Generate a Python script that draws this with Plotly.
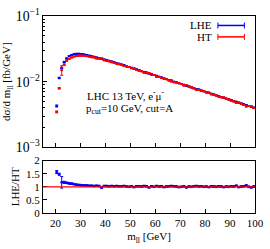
import plotly.graph_objects as go
from plotly.subplots import make_subplots

mll = [20.5 + i for i in range(80)]
bin_half = [0.5] * 80

lhe = [4.27e-3, 1.14e-2, 1.62e-2, 2.00e-2, 2.26e-2, 2.46e-2, 2.56e-2, 2.63e-2, 2.66e-2, 2.66e-2,
       2.63e-2, 2.59e-2, 2.55e-2, 2.49e-2, 2.44e-2, 2.39e-2, 2.33e-2, 2.28e-2, 2.23e-2, 2.18e-2,
       2.13e-2, 2.08e-2, 2.03e-2, 1.98e-2, 1.93e-2, 1.88e-2, 1.82e-2, 1.78e-2, 1.72e-2, 1.68e-2,
       1.63e-2, 1.58e-2, 1.54e-2, 1.50e-2, 1.45e-2, 1.41e-2, 1.38e-2, 1.33e-2, 1.30e-2, 1.26e-2,
       1.23e-2, 1.19e-2, 1.16e-2, 1.12e-2, 1.10e-2, 1.06e-2, 1.04e-2, 1.00e-2, 9.80e-3, 9.45e-3,
       9.25e-3, 8.95e-3, 8.70e-3, 8.50e-3, 8.20e-3, 8.02e-3, 7.75e-3, 7.58e-3, 7.33e-3, 7.16e-3,
       6.93e-3, 6.76e-3, 6.55e-3, 6.38e-3, 6.18e-3, 6.03e-3, 5.84e-3, 5.70e-3, 5.52e-3, 5.38e-3,
       5.24e-3, 5.06e-3, 4.95e-3, 4.78e-3, 4.67e-3, 4.52e-3, 4.42e-3, 4.27e-3, 4.16e-3, 4.03e-3]

ht = [3.47e-3, 7.93e-3, 1.50e-2, 1.82e-2, 2.09e-2, 2.23e-2, 2.34e-2, 2.42e-2, 2.46e-2, 2.49e-2,
      2.49e-2, 2.48e-2, 2.45e-2, 2.41e-2, 2.36e-2, 2.33e-2, 2.26e-2, 2.23e-2, 2.28e-2, 2.12e-2,
      2.07e-2, 2.04e-2, 1.98e-2, 1.94e-2, 1.88e-2, 1.84e-2, 1.79e-2, 1.73e-2, 1.70e-2, 1.68e-2,
      1.60e-2, 1.59e-2, 1.51e-2, 1.47e-2, 1.44e-2, 1.37e-2, 1.35e-2, 1.36e-2, 1.27e-2, 1.26e-2,
      1.19e-2, 1.18e-2, 1.14e-2, 1.13e-2, 1.09e-2, 1.04e-2, 1.01e-2, 9.80e-3, 9.70e-3, 9.55e-3,
      9.25e-3, 8.78e-3, 8.88e-3, 8.42e-3, 8.20e-3, 7.86e-3, 7.52e-3, 7.50e-3, 7.19e-3, 7.16e-3,
      6.86e-3, 6.83e-3, 6.42e-3, 6.32e-3, 6.18e-3, 5.91e-3, 5.78e-3, 5.76e-3, 5.47e-3, 5.38e-3,
      5.14e-3, 5.01e-3, 4.76e-3, 4.83e-3, 4.62e-3, 4.43e-3, 4.21e-3, 4.27e-3, 4.24e-3, 3.99e-3]

lhe_err = [1.5e-4, 3.0e-4, 4.0e-4, 4.0e-4, 4.0e-4, 4.0e-4, 4.0e-4, 4.0e-4, 4.0e-4, 4.0e-4,
           3.5e-4, 3.5e-4, 3.5e-4, 3.5e-4, 3.5e-4, 3.5e-4, 3.5e-4, 3.0e-4, 3.0e-4, 3.0e-4,
           3.0e-4, 3.0e-4, 3.0e-4, 3.0e-4, 2.8e-4, 2.8e-4, 2.8e-4, 2.6e-4, 2.6e-4, 2.6e-4,
           2.4e-4, 2.4e-4, 2.3e-4, 2.3e-4, 2.2e-4, 2.2e-4, 2.1e-4, 2.0e-4, 2.0e-4, 1.9e-4,
           1.9e-4, 1.8e-4, 1.8e-4, 1.7e-4, 1.7e-4, 1.6e-4, 1.6e-4, 1.5e-4, 1.5e-4, 1.5e-4,
           1.4e-4, 1.4e-4, 1.3e-4, 1.3e-4, 1.3e-4, 1.2e-4, 1.2e-4, 1.2e-4, 1.1e-4, 1.1e-4,
           1.1e-4, 1.0e-4, 1.0e-4, 1.0e-4, 1.0e-4, 9.0e-5, 9.0e-5, 9.0e-5, 8.5e-5, 8.5e-5,
           8.0e-5, 8.0e-5, 8.0e-5, 7.5e-5, 7.5e-5, 7.0e-5, 7.0e-5, 7.0e-5, 6.5e-5, 6.5e-5]

ht_err = [1.2e-4, 2.0e-4, 2.5e-3, 4.0e-4, 4.0e-4, 4.0e-4, 4.0e-4, 4.0e-4, 4.0e-4, 4.0e-4,
          3.5e-4, 3.5e-4, 3.5e-4, 3.5e-4, 3.5e-4, 3.5e-4, 3.5e-4, 3.0e-4, 3.0e-4, 3.0e-4,
          3.0e-4, 3.0e-4, 3.0e-4, 3.0e-4, 2.8e-4, 2.8e-4, 2.8e-4, 2.6e-4, 2.6e-4, 2.6e-4,
          2.4e-4, 2.4e-4, 2.3e-4, 2.3e-4, 2.2e-4, 2.2e-4, 2.1e-4, 2.0e-4, 2.0e-4, 1.9e-4,
          1.9e-4, 1.8e-4, 1.8e-4, 1.7e-4, 1.7e-4, 1.6e-4, 1.6e-4, 1.5e-4, 1.5e-4, 1.5e-4,
          1.4e-4, 1.4e-4, 1.3e-4, 1.3e-4, 1.3e-4, 1.2e-4, 1.2e-4, 1.2e-4, 1.1e-4, 1.1e-4,
          1.1e-4, 1.0e-4, 1.0e-4, 1.0e-4, 1.0e-4, 9.0e-5, 9.0e-5, 9.0e-5, 8.5e-5, 8.5e-5,
          8.0e-5, 8.0e-5, 8.0e-5, 7.5e-5, 7.5e-5, 7.0e-5, 7.0e-5, 7.0e-5, 6.5e-5, 6.5e-5]

ratio = [1.56, 1.48, 1.17, 1.17, 1.15, 1.13, 1.12, 1.10, 1.08, 1.07,
         1.06, 1.05, 1.05, 1.04, 1.04, 1.03, 1.04, 1.03, 0.97, 1.03,
         1.03, 1.02, 1.03, 1.02, 1.03, 1.02, 1.02, 1.03, 1.01, 1.00,
         1.02, 0.99, 1.02, 1.02, 1.01, 1.03, 1.02, 0.98, 1.02, 1.00,
         1.03, 1.01, 1.02, 0.99, 1.01, 1.02, 1.03, 1.02, 1.01, 0.99,
         1.00, 1.02, 0.98, 1.01, 1.00, 1.02, 1.03, 1.01, 1.02, 1.00,
         1.01, 0.99, 1.02, 1.01, 1.00, 1.02, 1.01, 0.99, 1.01, 1.00,
         1.02, 1.01, 1.04, 0.99, 1.01, 1.02, 1.05, 1.00, 0.98, 1.01]

ratio_err = [0.06, 0.04, 0.22, 0.04, 0.03, 0.03, 0.03, 0.03, 0.03, 0.03,
             0.03, 0.03, 0.03, 0.03, 0.03, 0.03, 0.03, 0.03, 0.03, 0.03,
             0.03, 0.03, 0.03, 0.03, 0.03, 0.03, 0.03, 0.03, 0.03, 0.03,
             0.03, 0.03, 0.03, 0.03, 0.03, 0.03, 0.03, 0.03, 0.03, 0.03,
             0.03, 0.03, 0.03, 0.03, 0.03, 0.03, 0.03, 0.03, 0.03, 0.03,
             0.03, 0.03, 0.03, 0.03, 0.03, 0.03, 0.03, 0.03, 0.03, 0.03,
             0.03, 0.03, 0.03, 0.03, 0.03, 0.03, 0.03, 0.03, 0.03, 0.03,
             0.03, 0.03, 0.03, 0.03, 0.03, 0.03, 0.03, 0.03, 0.03, 0.03]

x_ticks = [20, 30, 40, 50, 60, 70, 80, 90, 100]
ratio_ticks = [0, 0.5, 1, 1.5, 2]
ratio_ticktext = ["0", "0.5", "1", "1.5", "2"]

BLUE = "#0000ff"
RED = "#ff0000"
FONT = "Liberation Serif"

fig = make_subplots(rows=2, cols=1, shared_xaxes=False, vertical_spacing=0.0)

fig.add_trace(go.Scatter(
    x=mll, y=lhe, mode="markers", name="LHE",
    marker=dict(color=BLUE, size=2, symbol="square"),
    error_x=dict(type="data", array=bin_half, color=BLUE, thickness=1.6, width=0),
    error_y=dict(type="data", array=lhe_err, color=BLUE, thickness=1, width=1.5),
    showlegend=False), row=1, col=1)
fig.add_trace(go.Scatter(
    x=mll, y=ht, mode="markers", name="HT",
    marker=dict(color=RED, size=2, symbol="square"),
    error_x=dict(type="data", array=bin_half, color=RED, thickness=1.6, width=0),
    error_y=dict(type="data", array=ht_err, color=RED, thickness=1, width=1.5),
    showlegend=False), row=1, col=1)

fig.add_trace(go.Scatter(
    x=mll, y=ratio, mode="markers", name="LHE/HT",
    marker=dict(color=BLUE, size=2, symbol="square"),
    error_x=dict(type="data", array=bin_half, color=BLUE, thickness=1.6, width=0),
    error_y=dict(type="data", array=ratio_err, color=BLUE, thickness=1, width=1.5),
    showlegend=False), row=2, col=1)

fig.add_hline(y=1, line=dict(color=RED, width=1.2), row=2, col=1)

axis_common = dict(showline=True, linecolor="black", linewidth=1, mirror=True,
                   ticks="inside", tickcolor="black", ticklen=4, showgrid=False,
                   zeroline=False, tickfont=dict(family=FONT, size=11, color="black"))

fig.update_xaxes(range=[15, 100], tickvals=x_ticks, showticklabels=False,
                 row=1, col=1, **axis_common)
fig.update_xaxes(range=[15, 100], tickvals=x_ticks, showticklabels=True,
                 title=dict(text="m<sub>ll</sub> [GeV]", font=dict(family=FONT, size=11, color="black"),
                            standoff=4),
                 row=2, col=1, **axis_common)
fig.update_yaxes(type="log", range=[-3, -1], dtick=1, exponentformat="power",
                 minor=dict(ticks="inside", ticklen=2, tickcolor="black", showgrid=False),
                 title=dict(text="dσ/d m<sub>ll</sub> [fb/GeV]", font=dict(family=FONT, size=11, color="black"),
                            standoff=2),
                 row=1, col=1, **axis_common)
fig.update_yaxes(range=[0, 2], tickvals=ratio_ticks, ticktext=ratio_ticktext,
                 title=dict(text="LHE/HT", font=dict(family=FONT, size=11, color="black"),
                            standoff=4),
                 row=2, col=1, **axis_common)

fig.update_layout(
    width=270, height=249,
    margin=dict(l=39, r=11, t=6, b=36),
    paper_bgcolor="white", plot_bgcolor="white",
    font=dict(family=FONT, size=11, color="black"),
    showlegend=False,
)
fig.layout.yaxis.domain = [0.333, 1.0]
fig.layout.yaxis2.domain = [0.0, 0.266]

# annotations (text)
fig.add_annotation(xref="paper", yref="paper", x=0.2, y=0.598, xanchor="left", yanchor="middle",
                   text="LHC 13 TeV, e<sup>-</sup>μ<sup>-</sup>", showarrow=False,
                   font=dict(family=FONT, size=11, color="black"))
fig.add_annotation(xref="paper", yref="paper", x=0.195, y=0.53, xanchor="left", yanchor="middle",
                   text="p<sub>cut</sub>=10 GeV, cut=A", showarrow=False,
                   font=dict(family=FONT, size=11, color="black"))

# manual legend (text right, sample to the right)
legend_items = [("LHE", BLUE, 0.952), ("HT", RED, 0.894)]
for label, col, yy in legend_items:
    fig.add_annotation(xref="paper", yref="paper", x=0.805, y=yy, xanchor="right", yanchor="middle",
                       text=label, showarrow=False, font=dict(family=FONT, size=11, color="black"))
    fig.add_shape(type="line", xref="paper", yref="paper", x0=0.825, x1=0.95, y0=yy, y1=yy,
                  line=dict(color=col, width=1.5))
    for xe in (0.825, 0.95):
        fig.add_shape(type="line", xref="paper", yref="paper", x0=xe, x1=xe, y0=yy - 0.015, y1=yy + 0.015,
                      line=dict(color=col, width=1))

fig.write_html("out.html", config={"displayModeBar": False},
               post_script="document.body.style.margin='0';")
